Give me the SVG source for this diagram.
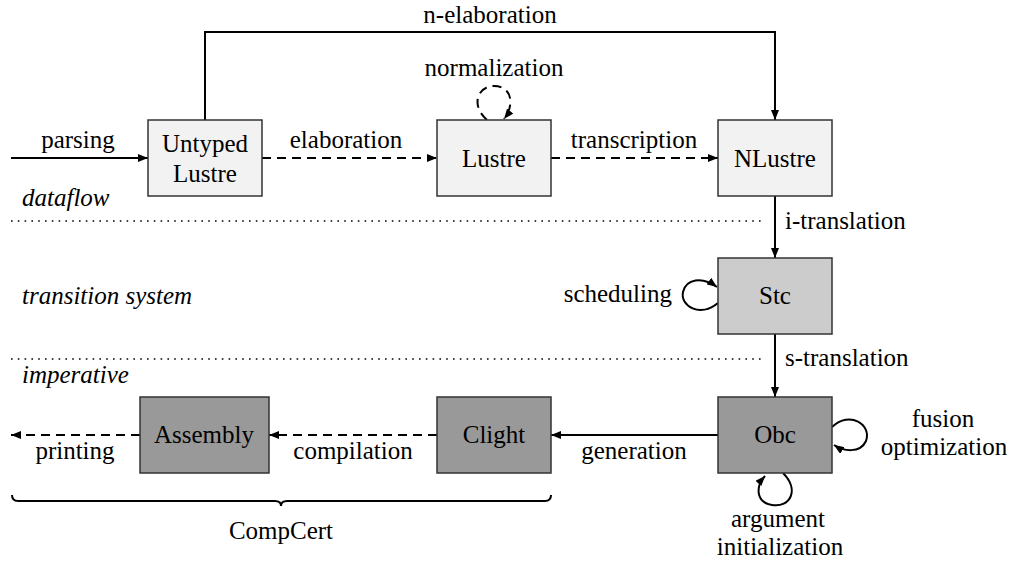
<svg xmlns="http://www.w3.org/2000/svg" width="1020" height="568" viewBox="0 0 1020 568">
<style>
.t{font-family:'Liberation Serif','Times New Roman',serif;font-size:25px;fill:#000;}
.c{text-anchor:middle;}
.r{text-anchor:end;}
.it{font-style:italic;}
.box{stroke:#333;stroke-width:1.5;}
.l1{fill:#f2f2f2;}
.l2{fill:#cccccc;}
.l3{fill:#999999;}
.e{fill:none;stroke:#000;stroke-width:2;}
.d{stroke-dasharray:9,6;}
.dot{fill:none;stroke:#000;stroke-width:1.6;stroke-dasharray:1.6,5.2;}
</style>
<defs>
<marker id="ah" viewBox="0 0 10 8" refX="10" refY="4" markerWidth="10" markerHeight="8" markerUnits="userSpaceOnUse" orient="auto">
<path d="M0,0 L10,4 L0,8 z" fill="#000"/>
</marker>
</defs>
<g id="lanes">
<path class="dot" d="M11,221 H763"/>
<path class="dot" d="M11,359 H763"/>
<text class="t it" x="22" y="206">dataflow</text>
<text class="t it" x="22" y="304">transition system</text>
<text class="t it" x="22" y="383">imperative</text>
</g>
<g id="connectors">
<path class="e" d="M11,158 H148" marker-end="url(#ah)"/>
<text class="t c" x="78" y="148">parsing</text>
<path class="e d" d="M262,158 H437" marker-end="url(#ah)"/>
<text class="t c" x="346" y="148">elaboration</text>
<path class="e d" d="M551,158 H718" marker-end="url(#ah)"/>
<text class="t c" x="634" y="148">transcription</text>
<path class="e" d="M205,120 V32 H775 V120" marker-end="url(#ah)"/>
<text class="t c" x="490" y="23">n-elaboration</text>
<path class="e d" d="M487,120 C470,105 478,86 494,86 C512,86 515,105 504,119" marker-end="url(#ah)"/>
<text class="t c" x="494" y="76">normalization</text>
<path class="e" d="M775,196 V258" marker-end="url(#ah)"/>
<text class="t" x="785" y="229">i-translation</text>
<path class="e" d="M718,303 C700,318 680,306 683,292 C686,279 702,276 717,287" marker-end="url(#ah)"/>
<text class="t r" x="672" y="302">scheduling</text>
<path class="e" d="M775,334 V397" marker-end="url(#ah)"/>
<text class="t" x="785" y="366">s-translation</text>
<path class="e" d="M832,427 C850,410 872,425 866,441 C860,454 843,451 834,445" marker-end="url(#ah)"/>
<text class="t c" x="943" y="427">fusion</text>
<text class="t c" x="944" y="455">optimization</text>
<path class="e" d="M783,473 C800,490 790,508 772,505 C755,502 756,486 765,476" marker-end="url(#ah)"/>
<text class="t c" x="778" y="527">argument</text>
<text class="t c" x="780" y="555">initialization</text>
<path class="e" d="M718,435 H551" marker-end="url(#ah)"/>
<text class="t c" x="634" y="459">generation</text>
<path class="e d" d="M437,435 H269" marker-end="url(#ah)"/>
<text class="t c" x="353" y="459">compilation</text>
<path class="e d" d="M140,435 H11" marker-end="url(#ah)"/>
<text class="t c" x="75" y="459">printing</text>
</g>
<g id="compcert">
<path class="e" d="M12,495 q0,6 6,6 H275 q6,0 6,5 q0,-5 6,-5 H545 q6,0 6,-6"/>
<text class="t c" x="281" y="539">CompCert</text>
</g>
<g id="untyped">
<rect class="box l1" x="148" y="120" width="114" height="76"/>
<text class="t c" x="205" y="152">Untyped</text>
<text class="t c" x="205" y="182">Lustre</text>
</g>
<g id="lustre">
<rect class="box l1" x="437" y="120" width="114" height="76"/>
<text class="t c" x="494" y="167">Lustre</text>
</g>
<g id="nlustre">
<rect class="box l1" x="718" y="120" width="114" height="76"/>
<text class="t c" x="775" y="167">NLustre</text>
</g>
<g id="stc">
<rect class="box l2" x="718" y="258" width="114" height="76"/>
<text class="t c" x="775" y="304">Stc</text>
</g>
<g id="obc">
<rect class="box l3" x="718" y="397" width="114" height="76"/>
<text class="t c" x="775" y="443">Obc</text>
</g>
<g id="clight">
<rect class="box l3" x="437" y="397" width="114" height="76"/>
<text class="t c" x="494" y="443">Clight</text>
</g>
<g id="assembly">
<rect class="box l3" x="140" y="397" width="129" height="76"/>
<text class="t c" x="204" y="443">Assembly</text>
</g>
</svg>
